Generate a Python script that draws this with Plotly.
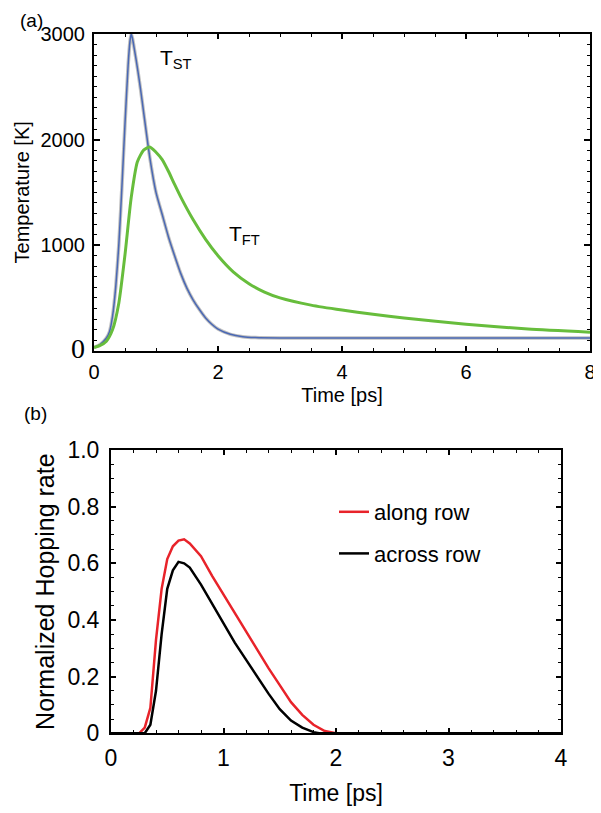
import plotly.graph_objects as go

# (a) lattice temperatures, time in ps, temperature in K
t_st = [0, 0.1, 0.2, 0.25, 0.3, 0.35, 0.4, 0.45, 0.5, 0.55, 0.58, 0.6, 0.62, 0.65, 0.7, 0.75, 0.8, 0.9,
        1.0, 1.1, 1.2, 1.3, 1.4, 1.5, 1.6, 1.7, 1.8, 1.9, 2.0, 2.2, 2.4, 2.6, 3.0, 4.0, 6.0, 8.0]
temp_st = [30, 60, 120, 180, 330, 600, 1000, 1550, 2150, 2700, 2930, 3000, 2960, 2860, 2680, 2480, 2260, 1830,
           1500, 1290, 1080, 900, 730, 590, 480, 390, 310, 250, 205, 155, 132, 124, 120, 120, 120, 120]

t_ft = [0, 0.1, 0.2, 0.3, 0.4, 0.5, 0.6, 0.7, 0.8, 0.9, 1.0, 1.1, 1.2, 1.3, 1.4, 1.6, 1.8, 2.0,
        2.25, 2.5, 2.75, 3.0, 3.5, 4.0, 4.5, 5.0, 6.0, 7.0, 8.0]
temp_ft = [30, 50, 90, 200, 450, 910, 1450, 1790, 1900, 1930, 1880, 1810, 1700, 1575, 1455, 1240, 1055, 900,
           745, 635, 555, 500, 432, 385, 345, 310, 250, 205, 175]

# (b) normalized hopping rates
t_along = [0, 0.25, 0.3, 0.35, 0.4, 0.45, 0.5, 0.55, 0.6, 0.65, 0.7, 0.8, 0.9, 1.0, 1.1, 1.2, 1.3,
           1.4, 1.5, 1.6, 1.7, 1.8, 1.9, 2.0, 4.0]
rate_along = [0, 0, 0.02, 0.09, 0.33, 0.51, 0.615, 0.66, 0.68, 0.685, 0.67, 0.625, 0.555, 0.49, 0.42, 0.355,
              0.295, 0.23, 0.17, 0.11, 0.065, 0.03, 0.008, 0, 0]

t_across = [0, 0.3, 0.35, 0.4, 0.45, 0.5, 0.55, 0.6, 0.65, 0.7, 0.8, 0.9, 1.0, 1.1, 1.2, 1.3, 1.4,
            1.5, 1.6, 1.7, 1.8, 1.85, 4.0]
rate_across = [0, 0, 0.03, 0.15, 0.35, 0.51, 0.575, 0.605, 0.6, 0.585, 0.525, 0.455, 0.39, 0.32, 0.26, 0.2,
               0.14, 0.085, 0.045, 0.02, 0.004, 0, 0]

W, H = 601, 813
OFF = 8  # page body margin
FONT = "Liberation Sans, Arial, sans-serif"


def px_x(p):
    return (p - OFF) / W


def px_y(p):
    return 1 - (p - OFF) / H


fig = go.Figure()

# top panel
fig.add_trace(go.Scatter(x=t_st, y=temp_st, mode="lines",
                         line=dict(color="rgba(140,140,140,0.55)", width=3.5, shape="spline", smoothing=0.6),
                         showlegend=False, hoverinfo="skip", xaxis="x", yaxis="y"))
fig.add_trace(go.Scatter(x=t_st, y=temp_st, mode="lines", name="T_ST",
                         line=dict(color="#4a68b4", width=1.5, shape="spline", smoothing=0.6),
                         showlegend=False, xaxis="x", yaxis="y"))
fig.add_trace(go.Scatter(x=t_ft, y=temp_ft, mode="lines", name="T_FT",
                         line=dict(color="#67bd3c", width=3, shape="spline", smoothing=0.6),
                         showlegend=False, xaxis="x", yaxis="y"))

# bottom panel
fig.add_trace(go.Scatter(x=t_along, y=rate_along, mode="lines", name="along row",
                         line=dict(color="#e8232a", width=2.5), legendgroup="a", xaxis="x2", yaxis="y2"))
fig.add_trace(go.Scatter(x=t_across, y=rate_across, mode="lines", name="across row",
                         line=dict(color="black", width=2.5), legendgroup="b", xaxis="x2", yaxis="y2"))

axis_common = dict(showline=True, linecolor="black", linewidth=2, mirror="allticks", ticks="inside",
                   tickcolor="black", showgrid=False, zeroline=False, automargin=False)

fig.update_layout(
    width=W, height=H, margin=dict(l=0, r=0, t=0, b=0, autoexpand=False),
    paper_bgcolor="white", plot_bgcolor="white",
    font=dict(family=FONT, color="black"),
    xaxis=dict(axis_common, domain=[px_x(94), px_x(590)], anchor="y", range=[0, 8],
               tickvals=[0, 2, 4, 6, 8], ticklen=5, tickwidth=1.5,
               minor=dict(dtick=0.5, ticks="inside", ticklen=3, tickcolor="black", tickwidth=1),
               tickfont=dict(size=20), ticklabelstandoff=2,
               title=dict(text="Time [ps]", font=dict(size=20), standoff=6)),
    yaxis=dict(axis_common, domain=[px_y(350.7), px_y(34)], anchor="x", range=[0, 3000],
               tickvals=[1000, 2000, 3000], ticklen=6, tickwidth=1.5,
               minor=dict(dtick=100, ticks="inside", ticklen=3, tickcolor="black", tickwidth=1),
               tickfont=dict(size=20), ticklabelstandoff=3,
               title=dict(text="Temperature [K]", font=dict(size=20), standoff=5)),
    xaxis2=dict(axis_common, domain=[px_x(111), px_x(561)], anchor="y2", range=[0, 4],
                tickvals=[0, 1, 2, 3, 4], ticklen=5, tickwidth=1.5,
                minor=dict(dtick=0.2, ticks="inside", ticklen=3, tickcolor="black", tickwidth=1),
                tickfont=dict(size=23), ticklabelstandoff=3,
                title=dict(text="Time [ps]", font=dict(size=23), standoff=15)),
    yaxis2=dict(axis_common, domain=[px_y(733.3), px_y(450)], anchor="x2", range=[0, 1],
                tickvals=[0, 0.2, 0.4, 0.6, 0.8, 1.0], ticktext=["0", "0.2", "0.4", "0.6", "0.8", "1.0"],
                ticklen=5, tickwidth=1.5,
                minor=dict(dtick=0.05, ticks="inside", ticklen=3, tickcolor="black", tickwidth=1),
                tickfont=dict(size=23), ticklabelstandoff=5,
                title=dict(text="Normalized Hopping rate", font=dict(size=25), standoff=6)),
    legend=dict(x=px_x(334), y=px_y(491), xanchor="left", yanchor="top", bgcolor="rgba(0,0,0,0)",
                font=dict(size=22), traceorder="grouped", tracegroupgap=10),
    showlegend=True,
)

# the zero of the temperature axis is set in a serif face in the original
fig.add_annotation(x=px_x(78), y=0, xref="paper", yref="y", text="0", showarrow=False,
                   xanchor="center", yanchor="middle", yshift=2,
                   font=dict(family="Liberation Serif, Times New Roman, serif", size=28))
fig.add_annotation(x=px_x(31), y=px_y(20), xref="paper", yref="paper", text="(a)", showarrow=False,
                   xanchor="center", yanchor="middle", font=dict(size=19))
fig.add_annotation(x=px_x(35), y=px_y(413), xref="paper", yref="paper", text="(b)", showarrow=False,
                   xanchor="center", yanchor="middle", font=dict(size=19))
fig.add_annotation(x=1.03, y=2760, xref="x", yref="y", text="T<sub>ST</sub>", showarrow=False,
                   xanchor="left", yanchor="middle", font=dict(size=21))
fig.add_annotation(x=2.15, y=1100, xref="x", yref="y", text="T<sub>FT</sub>", showarrow=False,
                   xanchor="left", yanchor="middle", font=dict(size=21))

fig.write_html("out.html")
